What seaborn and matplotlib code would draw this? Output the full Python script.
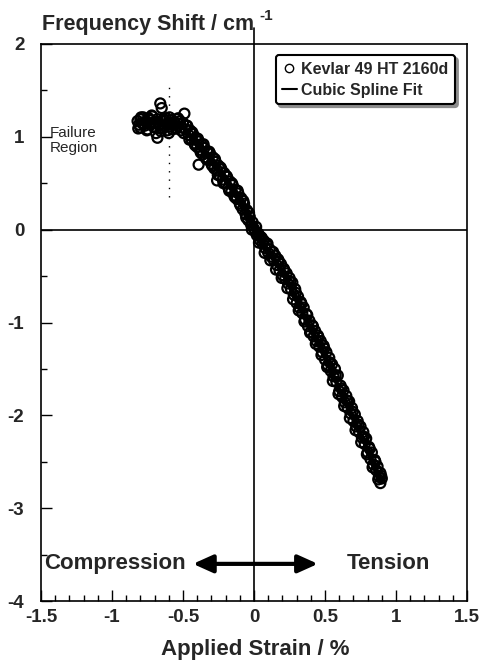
import matplotlib
matplotlib.use("Agg")
import matplotlib.pyplot as plt
import seaborn as sns
import pandas as pd
from matplotlib.ticker import MultipleLocator
from matplotlib.lines import Line2D

# ---------------- data ----------------
comp_strain = [-0.82, -0.81, -0.80, -0.80, -0.79, -0.78, -0.77, -0.76, -0.75, -0.74,
               -0.73, -0.72, -0.71, -0.70, -0.69, -0.68, -0.68, -0.67, -0.66, -0.65,
               -0.65, -0.64, -0.63, -0.62, -0.61, -0.60, -0.60, -0.59, -0.58, -0.57,
               -0.56, -0.55, -0.54, -0.53, -0.52, -0.51, -0.50, -0.49, -0.48, -0.47,
               -0.46, -0.45, -0.44, -0.43, -0.42, -0.41, -0.40, -0.39, -0.39, -0.38,
               -0.37, -0.36, -0.35, -0.34, -0.33, -0.32, -0.31, -0.30, -0.29, -0.28,
               -0.27, -0.26, -0.26, -0.25, -0.24, -0.23, -0.22, -0.21, -0.20, -0.19,
               -0.18, -0.17, -0.16, -0.15, -0.14, -0.13, -0.12, -0.11, -0.10, -0.09,
               -0.08, -0.07, -0.06, -0.05, -0.04, -0.03, -0.02, -0.01, 0.00]
comp_shift = [1.17, 1.13, 1.19, 1.10, 1.15, 1.21, 1.12, 1.17, 1.08, 1.20,
              1.14, 1.23, 1.11, 1.16, 1.04, 0.99, 1.19, 1.13, 1.36, 1.31,
              1.09, 1.17, 1.12, 1.20, 1.07, 1.04, 1.15, 1.11, 1.18, 1.13,
              1.16, 1.09, 1.19, 1.14, 1.17, 1.10, 1.15, 1.25, 1.08, 1.12,
              1.02, 1.07, 0.97, 1.03, 0.93, 0.99, 0.89, 0.70, 0.95, 0.86,
              0.92, 0.81, 0.88, 0.78, 0.84, 0.75, 0.82, 0.71, 0.78, 0.66,
              0.73, 0.53, 0.64, 0.69, 0.58, 0.65, 0.54, 0.61, 0.50, 0.57,
              0.45, 0.52, 0.41, 0.48, 0.37, 0.43, 0.33, 0.39, 0.28, 0.34,
              0.22, 0.28, 0.17, 0.21, 0.10, 0.14, 0.05, 0.08, 0.01]

comp_strain_b = [-0.815, -0.795, -0.775, -0.755, -0.735, -0.715, -0.695, -0.675, -0.655,
                 -0.635, -0.615, -0.595, -0.575, -0.555, -0.535, -0.515, -0.495, -0.475,
                 -0.455, -0.435, -0.415, -0.395, -0.375, -0.355, -0.335, -0.315, -0.295,
                 -0.275, -0.255, -0.235, -0.215, -0.195, -0.175, -0.155, -0.135, -0.115,
                 -0.095, -0.075, -0.055, -0.035, -0.015]
comp_shift_b = [1.09, 1.21, 1.14, 1.07, 1.18, 1.22, 1.10, 1.16, 1.06,
                1.19, 1.13, 1.21, 1.08, 1.14, 1.20, 1.07, 1.04, 1.12,
                0.97, 1.05, 0.91, 0.98, 0.83, 0.92, 0.76, 0.84, 0.69,
                0.76, 0.59, 0.67, 0.50, 0.58, 0.42, 0.50, 0.35, 0.42,
                0.26, 0.31, 0.13, 0.18, 0.00]

tens_strain = [0.01, 0.02, 0.03, 0.04, 0.05, 0.06, 0.07, 0.08, 0.09, 0.10,
               0.11, 0.12, 0.13, 0.14, 0.15, 0.16, 0.17, 0.18, 0.19, 0.20,
               0.21, 0.22, 0.23, 0.24, 0.25, 0.26, 0.27, 0.28, 0.29, 0.30,
               0.31, 0.32, 0.33, 0.34, 0.35, 0.36, 0.37, 0.38, 0.39, 0.40,
               0.41, 0.42, 0.43, 0.44, 0.45, 0.46, 0.47, 0.48, 0.49, 0.50,
               0.51, 0.52, 0.53, 0.54, 0.55, 0.56, 0.57, 0.58, 0.59, 0.60,
               0.61, 0.62, 0.63, 0.64, 0.65, 0.66, 0.67, 0.68, 0.69, 0.70,
               0.71, 0.72, 0.73, 0.74, 0.75, 0.76, 0.77, 0.78, 0.79, 0.80,
               0.81, 0.82, 0.83, 0.84, 0.85, 0.86, 0.87, 0.88, 0.89, 0.89, 0.90]
tens_shift = [-0.02, -0.06, -0.04, -0.11, -0.08, -0.15, -0.12, -0.20, -0.16, -0.25,
              -0.21, -0.29, -0.24, -0.33, -0.28, -0.38, -0.32, -0.44, -0.37, -0.49,
              -0.42, -0.53, -0.47, -0.58, -0.52, -0.64, -0.57, -0.70, -0.64, -0.79,
              -0.72, -0.84, -0.78, -0.90, -0.84, -0.97, -0.91, -1.04, -0.98, -1.10,
              -1.03, -1.15, -1.09, -1.20, -1.14, -1.26, -1.20, -1.32, -1.25, -1.40,
              -1.32, -1.46, -1.38, -1.52, -1.45, -1.58, -1.50, -1.64, -1.57, -1.74,
              -1.68, -1.80, -1.73, -1.86, -1.79, -1.92, -1.85, -1.98, -1.92, -2.06,
              -1.99, -2.12, -2.06, -2.18, -2.12, -2.24, -2.18, -2.31, -2.25, -2.40,
              -2.34, -2.47, -2.40, -2.53, -2.48, -2.59, -2.55, -2.66, -2.62, -2.73, -2.68]

tens_strain_b = [0.015, 0.035, 0.055, 0.075, 0.095, 0.115, 0.135, 0.155, 0.175, 0.195,
                 0.215, 0.235, 0.255, 0.275, 0.295, 0.315, 0.335, 0.355, 0.375, 0.395,
                 0.415, 0.435, 0.455, 0.475, 0.495, 0.515, 0.535, 0.555, 0.575, 0.595,
                 0.615, 0.635, 0.655, 0.675, 0.695, 0.715, 0.735, 0.755, 0.775, 0.795,
                 0.815, 0.835, 0.855, 0.875, 0.895]
tens_shift_b = [0.03, -0.14, -0.09, -0.25, -0.15, -0.33, -0.24, -0.43, -0.34, -0.52,
                -0.44, -0.63, -0.56, -0.75, -0.68, -0.87, -0.80, -0.99, -0.92, -1.11,
                -1.04, -1.23, -1.16, -1.35, -1.28, -1.48, -1.43, -1.63, -1.57, -1.77,
                -1.71, -1.90, -1.84, -2.03, -1.96, -2.16, -2.10, -2.29, -2.23, -2.42,
                -2.36, -2.56, -2.50, -2.69, -2.65]

fit_strain = [-0.82, -0.70, -0.60, -0.50, -0.40, -0.30, -0.20, -0.10, 0.00,
              0.10, 0.20, 0.30, 0.40, 0.50, 0.60, 0.70, 0.80, 0.90]
fit_shift = [1.15, 1.15, 1.13, 1.10, 0.93, 0.75, 0.53, 0.33, 0.00,
             -0.23, -0.46, -0.76, -1.06, -1.36, -1.72, -2.04, -2.37, -2.72]

x_ticks = [-1.5, -1, -0.5, 0, 0.5, 1, 1.5]
x_tick_labels = ["-1.5", "-1", "-0.5", "0", "0.5", "1", "1.5"]
y_ticks = [-4, -3, -2, -1, 0, 1, 2]
y_tick_labels = ["-4", "-3", "-2", "-1", "0", "1", "2"]

data_df = pd.DataFrame({
    "strain": comp_strain + comp_strain_b + tens_strain + tens_strain_b,
    "shift": comp_shift + comp_shift_b + tens_shift + tens_shift_b})
fit_df = pd.DataFrame({"strain": fit_strain, "shift": fit_shift})

# ---------------- style ----------------
sns.set_theme(style="ticks")
plt.rcParams["font.family"] = ["Liberation Sans", "DejaVu Sans"]

W, H = 485, 661
fig = plt.figure(figsize=(W / 100, H / 100), dpi=100)
ax = fig.add_axes([41 / W, 1 - 601 / H, 426 / W, 557 / H])

sns.lineplot(data=fit_df, x="strain", y="shift", ax=ax, color="black", lw=3,
             sort=True, zorder=2)
sns.scatterplot(data=data_df, x="strain", y="shift", ax=ax, marker="o", s=52,
                facecolor="none", edgecolor="black", linewidth=1.6, zorder=3)

ax.set_xlim(-1.5, 1.5)
ax.set_ylim(-4, 2)
ax.set_xticks(x_ticks)
ax.set_xticklabels(x_tick_labels)
ax.set_yticks(y_ticks)
ax.set_yticklabels(y_tick_labels)
ax.xaxis.set_minor_locator(MultipleLocator(0.1))
ax.yaxis.set_minor_locator(MultipleLocator(0.5))
ax.tick_params(which="both", direction="in", color="black", width=1)
ax.tick_params(which="major", length=8)
ax.tick_params(which="minor", length=4)
ax.tick_params(axis="x", which="major", pad=6, labelsize=13.5)
ax.tick_params(axis="y", which="major", pad=12, labelsize=13.5)
for lab in ax.get_xticklabels() + ax.get_yticklabels():
    lab.set_fontweight("bold")
for sp in ax.spines.values():
    sp.set_linewidth(1.2)
    sp.set_color("black")
ax.set_xlabel("")
ax.set_ylabel("")

# zero lines
ax.axhline(0, color="black", lw=1.2, zorder=1)
ax.plot([0, 0], [-4, 2.17], color="black", lw=1.2, zorder=1, clip_on=False)

# failure region marker
ax.plot([-0.6, -0.6], [0.35, 1.58], color="black", lw=1, ls=(0, (1, 5)), zorder=1)
ax.text(-1.44, 1.12, "Failure\nRegion", fontsize=11, ha="left", va="top",
        linespacing=1.15)

# compression / tension arrow
ax.annotate("", xy=(-0.43, -3.6), xytext=(0.45, -3.6),
            arrowprops=dict(arrowstyle="<|-|>,head_length=1.0,head_width=0.45",
                            color="black", lw=3, shrinkA=0, shrinkB=0))
ax.text(-1.48, -3.6, "Compression", fontsize=16, fontweight="bold",
        ha="left", va="center")
ax.text(0.95, -3.6, "Tension", fontsize=16, fontweight="bold",
        ha="center", va="center")

# legend
handles = [Line2D([], [], marker="o", ls="none", markerfacecolor="white",
                  markeredgecolor="black", markersize=6, markeredgewidth=1),
           Line2D([], [], color="black", lw=1.5)]
leg = ax.legend(handles, ["Kevlar 49 HT 2160d", "Cubic Spline Fit"],
                loc="upper right", bbox_to_anchor=(0.972, 0.98), borderaxespad=0,
                frameon=True, fancybox=True, shadow={"color": "0.55", "alpha": 1},
                edgecolor="black", framealpha=1, handlelength=0.9,
                handletextpad=0.3, borderpad=0.4, labelspacing=0.4,
                prop={"weight": "bold", "size": 11.5})
leg.get_frame().set_linewidth(1.5)

# titles
t = fig.text(42 / W, 1 - 30 / H, "Frequency Shift / cm", fontsize=15.5,
             fontweight="bold", ha="left", va="baseline")
fig.canvas.draw()
bb = t.get_window_extent()
fig.text((bb.x1 + 5) / W, 1 - 20 / H, "-1", fontsize=11, fontweight="bold",
         ha="left", va="baseline")
fig.text(255 / W, 1 - 655 / H, "Applied Strain / %", fontsize=16,
         fontweight="bold", ha="center", va="baseline")

fig.savefig("out.png", dpi=100)
